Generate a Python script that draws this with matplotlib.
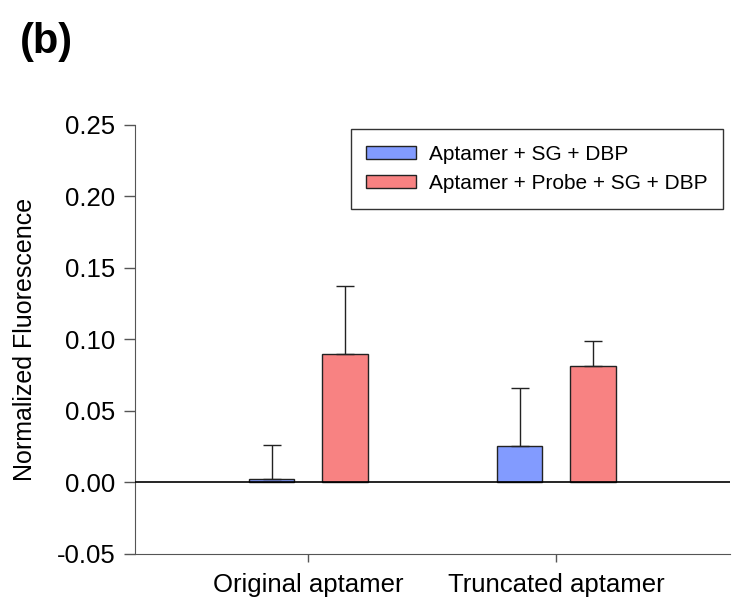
import matplotlib
matplotlib.use("Agg")
import matplotlib.pyplot as plt
import numpy as np

plt.rcParams['font.family'] = ['Liberation Sans', 'DejaVu Sans']

categories = ["Original aptamer", "Truncated aptamer"]
series_names = ["Aptamer + SG + DBP", "Aptamer + Probe + SG + DBP"]
values_sg = [0.0026, 0.0254]
errors_sg = [0.0239, 0.0405]
values_probe = [0.0900, 0.0815]
errors_probe = [0.0476, 0.0177]
yticks = [-0.05, 0.00, 0.05, 0.10, 0.15, 0.20, 0.25]

fig = plt.figure(figsize=(7.33, 6.13), dpi=100)
ax = fig.add_axes([0.184, 0.0963, 0.812, 0.7])

x = np.arange(len(categories))
w = 0.185
off = 0.149
cols = ['#829BFF', '#F88282']
ax.bar(x - off, values_sg, w, color=cols[0], edgecolor='#222222', linewidth=1.0,
       yerr=[np.zeros(len(errors_sg)), errors_sg], capsize=6.5,
       error_kw=dict(elinewidth=1.0, ecolor='#222222', capthick=1.0),
       label=series_names[0], zorder=3)
ax.bar(x + off, values_probe, w, color=cols[1], edgecolor='#222222', linewidth=1.0,
       yerr=[np.zeros(len(errors_probe)), errors_probe], capsize=6.5,
       error_kw=dict(elinewidth=1.0, ecolor='#222222', capthick=1.0),
       label=series_names[1], zorder=3)

ax.axhline(0, color='black', linewidth=1.2, zorder=4)
ax.set_xlim(-0.7, 1.7)
ax.set_ylim(-0.05, 0.25)
ax.set_yticks(yticks)
ax.set_yticklabels([f"{v:.2f}" for v in yticks], fontsize=18.5)
ax.set_xticks(x)
ax.set_xticklabels(categories, fontsize=18.5)
ax.tick_params(axis='y', direction='out', length=8, width=1, color='#555555', pad=6)
ax.tick_params(axis='x', direction='out', length=6, width=1, color='#555555', pad=7.5)
ax.spines['top'].set_visible(False)
ax.spines['right'].set_visible(False)
ax.spines['left'].set_color('#555555')
ax.spines['bottom'].set_color('#555555')
ax.set_ylabel("Normalized Fluorescence", fontsize=18, labelpad=14)

leg = ax.legend(loc='upper right', bbox_to_anchor=(723/733, 1 - 129/613), bbox_transform=fig.transFigure,
                fontsize=15, frameon=True, fancybox=False, edgecolor='black',
                handlelength=2.4, handleheight=0.58, borderaxespad=0, borderpad=0.75,
                labelspacing=0.5, handletextpad=0.6)
leg.get_frame().set_linewidth(1.0)

fig.text(20/733, 1 - 42/613, "(b)", fontsize=30, fontweight='bold', va='center', ha='left')

fig.savefig("out.png", dpi=100)
